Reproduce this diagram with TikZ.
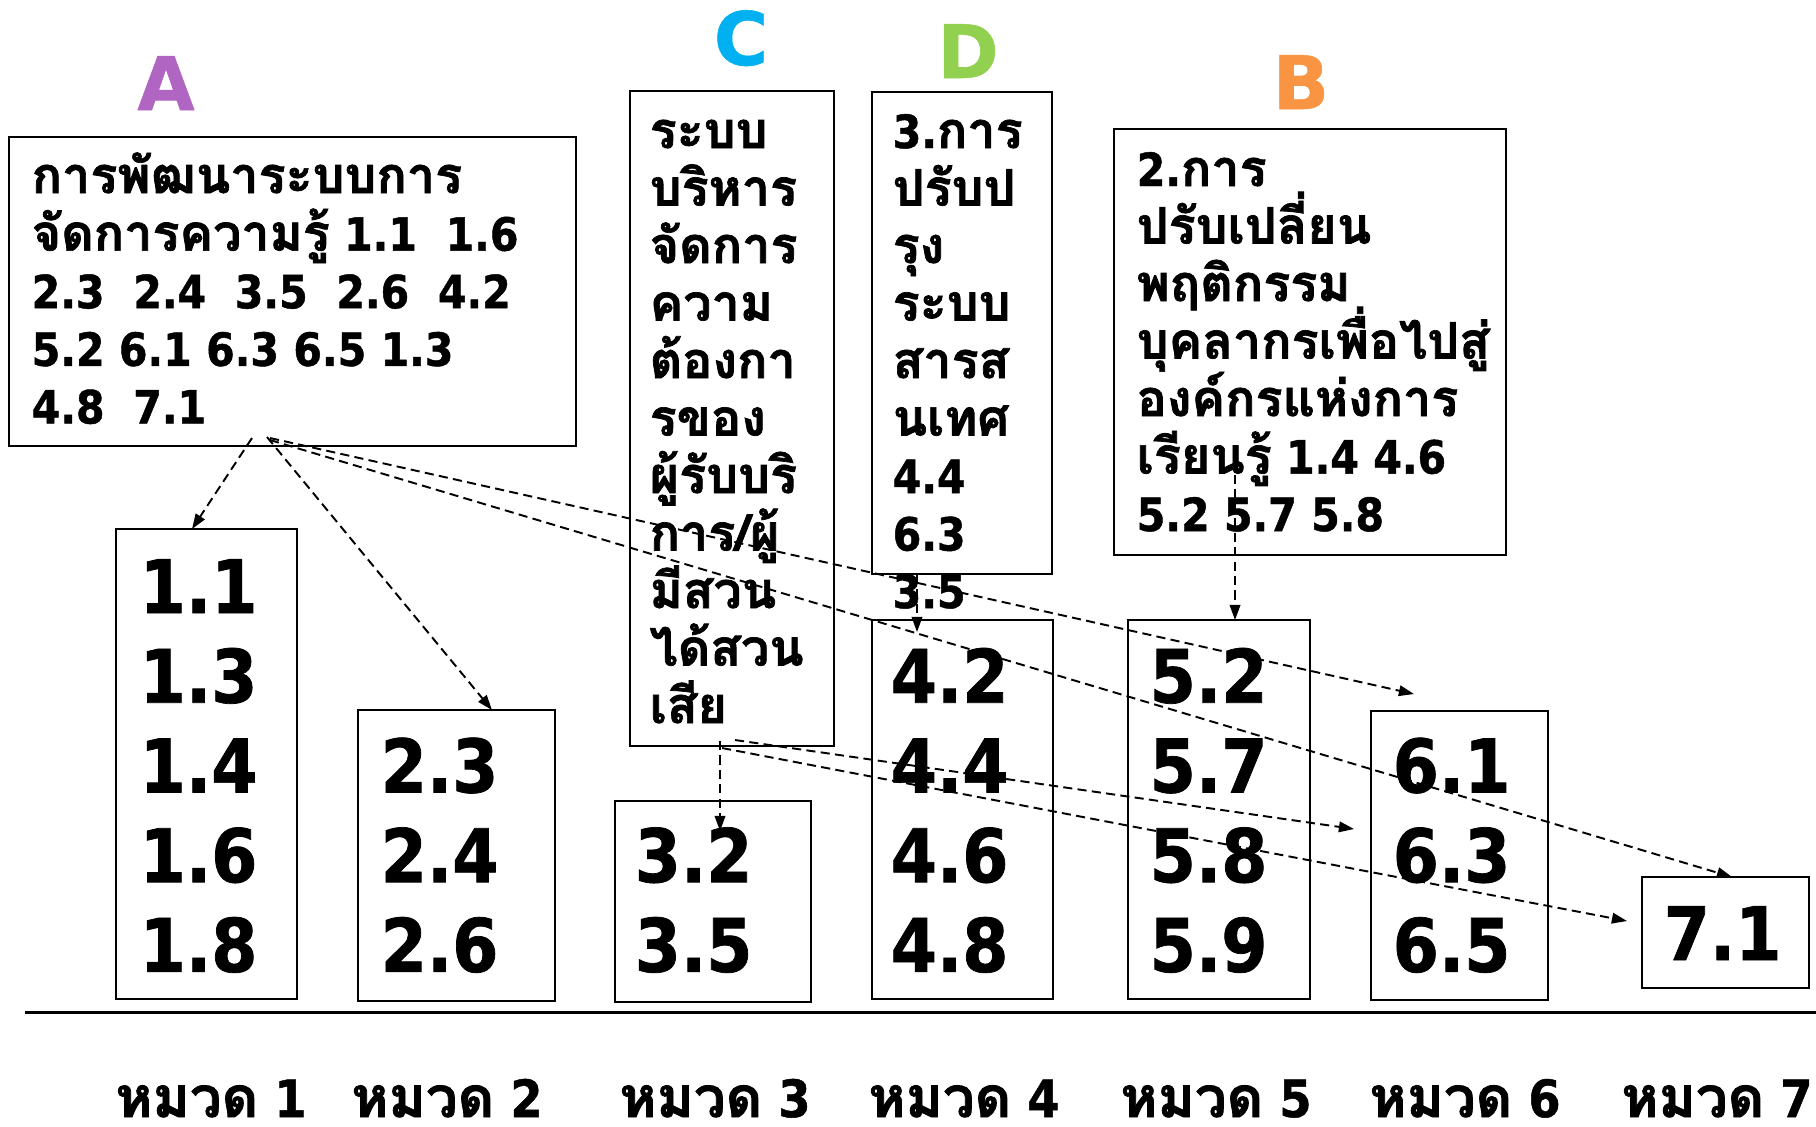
\documentclass[tikz,border=0pt]{standalone}
\usepackage{fontspec}
\setmainfont{DejaVu Sans}[FakeStretch=0.9, BoldFeatures={FakeBold=1}]
\newfontfamily\tagfont{DejaVu Sans}[BoldFeatures={FakeBold=0.8}]
\newfontfamily\thai[Script=Thai, Scale=1.1, BoldFeatures={FakeBold=1.4}]{Loma}
\usetikzlibrary{arrows.meta,fit}
\definecolor{tagA}{HTML}{B065C2}
\definecolor{tagB}{HTML}{F99443}
\definecolor{tagC}{HTML}{00B0F0}
\definecolor{tagD}{HTML}{92D050}
\begin{document}
\begin{tikzpicture}[x=0.01cm,y=-0.01cm,
  frame/.style={draw, line width=0.65pt, inner sep=0pt},
  txt/.style={anchor=base west, inner sep=0pt, font=\bfseries\fontsize{13}{15}\selectfont},
  num/.style={anchor=base west, inner sep=0pt, font=\bfseries\fontsize{21}{24}\selectfont},
  cat/.style={anchor=base, inner sep=0pt, font=\bfseries\fontsize{14.6}{18}\selectfont},
  tag/.style={anchor=base, inner sep=0pt, font=\tagfont\bfseries\fontsize{21}{24}\selectfont},
  link/.style={dash pattern=on 2.6pt off 1.5pt, line width=0.55pt,
    -{Triangle[length=4.3pt,width=3pt]}}]
\useasboundingbox (0,0) rectangle (1816,1126);

% coloured group letters
\node[tag, text=tagA] (tA) at (166,110) {A};
\node[tag, text=tagB] (tB) at (1301,109) {B};
\node[tag, text=tagC] (tC) at (741,65) {C};
\node[tag, text=tagD] (tD) at (968,78) {D};

% strategy boxes
\node[frame, fit={(9,137) (576,446)}] (boxA) {};
\node[frame, fit={(630,91) (834,746)}] (boxC) {};
\node[frame, fit={(872,92) (1052,574)}] (boxD) {};
\node[frame, fit={(1114,129) (1506,555)}] (boxB) {};

\foreach \t [count=\i from 0] in {{\thai การพัฒนาระบบการ},
    {{\thai จัดการความรู้} 1.1\ \ 1.6},
    {2.3\ \ 2.4\ \ 3.5\ \ 2.6\ \ 4.2},
    {5.2 6.1 6.3 6.5 1.3},
    {4.8\ \ 7.1}}
  \node[txt] (A\i) at (31,{193+57.6*\i}) {\t};

\foreach \t [count=\i from 0] in {ระบบ,บริหาร,จัดการ,ความ,ต้องกา,รของ,ผู้รับบริ,การ/ผู้,มีสวน,ได้สวน,เสีย}
  \node[txt, font=\bfseries\fontsize{13}{15}\selectfont\thai] (C\i) at (649,{148+57.5*\i}) {\t};

\foreach \t [count=\i from 0] in {{3.{\thai การ}},{\thai ปรับป},{\thai รุง},{\thai ระบบ},
    {\thai สารส},{\thai นเทศ},4.4,6.3,3.5}
  \node[txt] (D\i) at (892,{148+57.5*\i}) {\t};

\foreach \t [count=\i from 0] in {{2.{\thai การ}},{\thai ปรับเปลี่ยน},{\thai พฤติกรรม},
    {\thai บุคลากรเพื่อไปสู่},{\thai องค์กรแห่งการ},{{\thai เรียนรู้} 1.4 4.6},{5.2 5.7 5.8}}
  \node[txt] (B\i) at (1136,{186+57.5*\i}) {\t};

% criteria boxes
\node[frame, fit={(116,529) (297,999)}] (k1) {};
\node[frame, fit={(358,710) (555,1001)}] (k2) {};
\node[frame, fit={(615,801) (811,1002)}] (k3) {};
\node[frame, fit={(872,620) (1053,999)}] (k4) {};
\node[frame, fit={(1128,620) (1310,999)}] (k5) {};
\node[frame, fit={(1371,711) (1548,1000)}] (k6) {};
\node[frame, fit={(1642,877) (1809,988)}] (k7) {};

\foreach \t [count=\i from 0] in {1.1,1.3,1.4,1.6,1.8}
  \node[num] (n1-\i) at (139,{613+89.7*\i}) {\t};
\foreach \t [count=\i from 2] in {2.3,2.4,2.6}
  \node[num] (n2-\i) at (380,{613+89.7*\i}) {\t};
\foreach \t [count=\i from 3] in {3.2,3.5}
  \node[num] (n3-\i) at (634,{613+89.7*\i}) {\t};
\foreach \t [count=\i from 1] in {4.2,4.4,4.6,4.8}
  \node[num] (n4-\i) at (890,{613+89.7*\i}) {\t};
\foreach \t [count=\i from 1] in {5.2,5.7,5.8,5.9}
  \node[num] (n5-\i) at (1149,{613+89.7*\i}) {\t};
\foreach \t [count=\i from 2] in {6.1,6.3,6.5}
  \node[num] (n6-\i) at (1392,{613+89.7*\i}) {\t};
\node[num] (n7-0) at (1663,960) {7.1};

% base line and category labels
\coordinate (baseL) at (25,1012);
\coordinate (baseR) at (1816,1012);
\draw[line width=0.85pt] (baseL) -- (baseR);
\foreach \x [count=\i] in {211,447,715,964,1216,1465,1717}
  \node[cat] (cat\i) at (\x,1117) {{\thai หมวด} \i};

% connector end points
\coordinate (a0) at (252,438);
\coordinate (a1) at (267,437);
\coordinate (a2) at (270,438);
\coordinate (a3) at (270,440);
\coordinate (e1) at (192,529);
\coordinate (e2) at (492,710);
\coordinate (e6) at (1414,694);
\coordinate (e7) at (1732,877);
\coordinate (c0) at (720,741);
\coordinate (c1) at (735,740);
\coordinate (c2) at (722,748);
\coordinate (f3) at (720,831);
\coordinate (f6) at (1354,829);
\coordinate (f7) at (1627,921);
\coordinate (d0) at (917,575);
\coordinate (g4) at (917,632);
\coordinate (b0) at (1235,475);
\coordinate (h5) at (1235,620);

\draw[link] (a0) -- (e1);
\draw[link] (a1) -- (e2);
\draw[link] (a2) -- (e6);
\draw[link] (a3) -- (e7);
\draw[link] (c0) -- (f3);
\draw[link] (c1) -- (f6);
\draw[link] (c2) -- (f7);
\draw[link] (d0) -- (g4);
\draw[link] (b0) -- (h5);
\end{tikzpicture}
\end{document}
